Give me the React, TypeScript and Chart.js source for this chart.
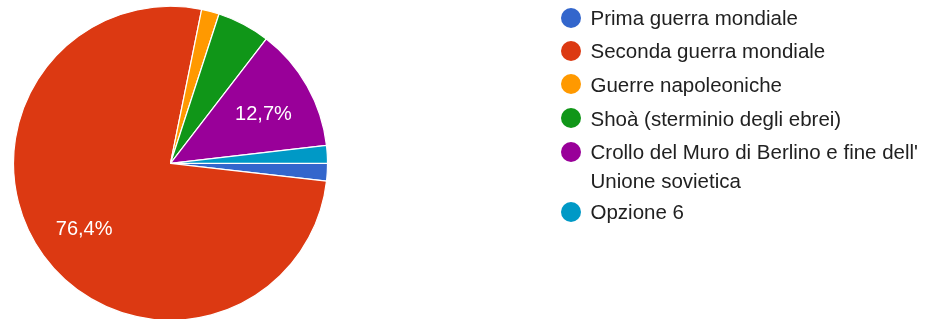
import React, { useEffect, useRef } from "react";
import { Chart, registerables } from "chart.js";

Chart.register(...registerables);

const categories = [
  "Prima guerra mondiale",
  "Seconda guerra mondiale",
  "Guerre napoleoniche",
  "Shoà (sterminio degli ebrei)",
  "Crollo del Muro di Berlino e fine dell' Unione sovietica",
  "Opzione 6",
];
const legendLines = [
  ["Prima guerra mondiale"],
  ["Seconda guerra mondiale"],
  ["Guerre napoleoniche"],
  ["Shoà (sterminio degli ebrei)"],
  ["Crollo del Muro di Berlino e fine dell'", "Unione sovietica"],
  ["Opzione 6"],
];
const values = [1, 42, 1, 3, 7, 1];
const colors = ["#3366CC", "#DC3912", "#FF9900", "#109618", "#990099", "#0099C6"];
const legendCenters = [17.5, 50.5, 84, 118, 151.5, 211.5];

const FONT = "'Liberation Sans', Arial, Helvetica, sans-serif";

const pctLabels = {
  id: "pctLabels",
  afterDatasetsDraw(chart: any) {
    const ctx = chart.ctx;
    const meta = chart.getDatasetMeta(0);
    const data = chart.data.datasets[0].data as number[];
    const total = data.reduce((a, b) => a + b, 0);
    ctx.save();
    ctx.fillStyle = "#ffffff";
    ctx.font = `20px ${FONT}`;
    ctx.textAlign = "center";
    ctx.textBaseline = "alphabetic";
    meta.data.forEach((arc: any, i: number) => {
      const frac = data[i] / total;
      if (frac < 0.08) return;
      const { x, y, startAngle, endAngle, outerRadius } = arc.getProps(
        ["x", "y", "startAngle", "endAngle", "outerRadius"],
        true
      );
      const mid = (startAngle + endAngle) / 2;
      const r = outerRadius * 0.68;
      const txt = (frac * 100).toFixed(1).replace(".", ",") + "%";
      ctx.fillText(txt, x + Math.cos(mid) * r, y + Math.sin(mid) * r + 9.2);
    });
    ctx.restore();
  },
};

export default function App() {
  const ref = useRef<HTMLCanvasElement | null>(null);
  useEffect(() => {
    if (!ref.current) return;
    const chart = new Chart(ref.current, {
      type: "pie",
      data: {
        labels: categories,
        datasets: [
          {
            data: values,
            backgroundColor: colors,
            borderColor: "#ffffff",
            borderWidth: 1.2,
            radius: 157,
          } as any,
        ],
      },
      options: {
        animation: false,
        responsive: false,
        rotation: 90,
        layout: { padding: { left: 13.5, right: 607.5, top: 7.6, bottom: 0 } },
        plugins: {
          legend: { display: false },
          tooltip: { enabled: false },
        },
      },
      plugins: [pctLabels],
    });
    return () => chart.destroy();
  }, []);

  return (
    <div
      style={{
        position: "absolute",
        left: 0,
        top: 0,
        width: 935,
        height: 319,
        overflow: "hidden",
        background: "#ffffff",
      }}
    >
      <canvas ref={ref} width={935} height={319} style={{ width: 935, height: 319, display: "block" }} />
      {legendLines.map((lines, i) => (
        <div key={i}>
          <div
            style={{
              position: "absolute",
              left: 561,
              top: legendCenters[i] - 10,
              width: 20,
              height: 20,
              borderRadius: "50%",
              background: colors[i],
            }}
          />
          <div
            style={{
              position: "absolute",
              left: 590.5,
              top: legendCenters[i] - 14.5,
              fontFamily: FONT,
              fontSize: 20.5,
              lineHeight: "29px",
              color: "#212121",
              whiteSpace: "nowrap",
            }}
          >
            {lines.map((l, j) => (
              <div key={j}>{l}</div>
            ))}
          </div>
        </div>
      ))}
    </div>
  );
}
